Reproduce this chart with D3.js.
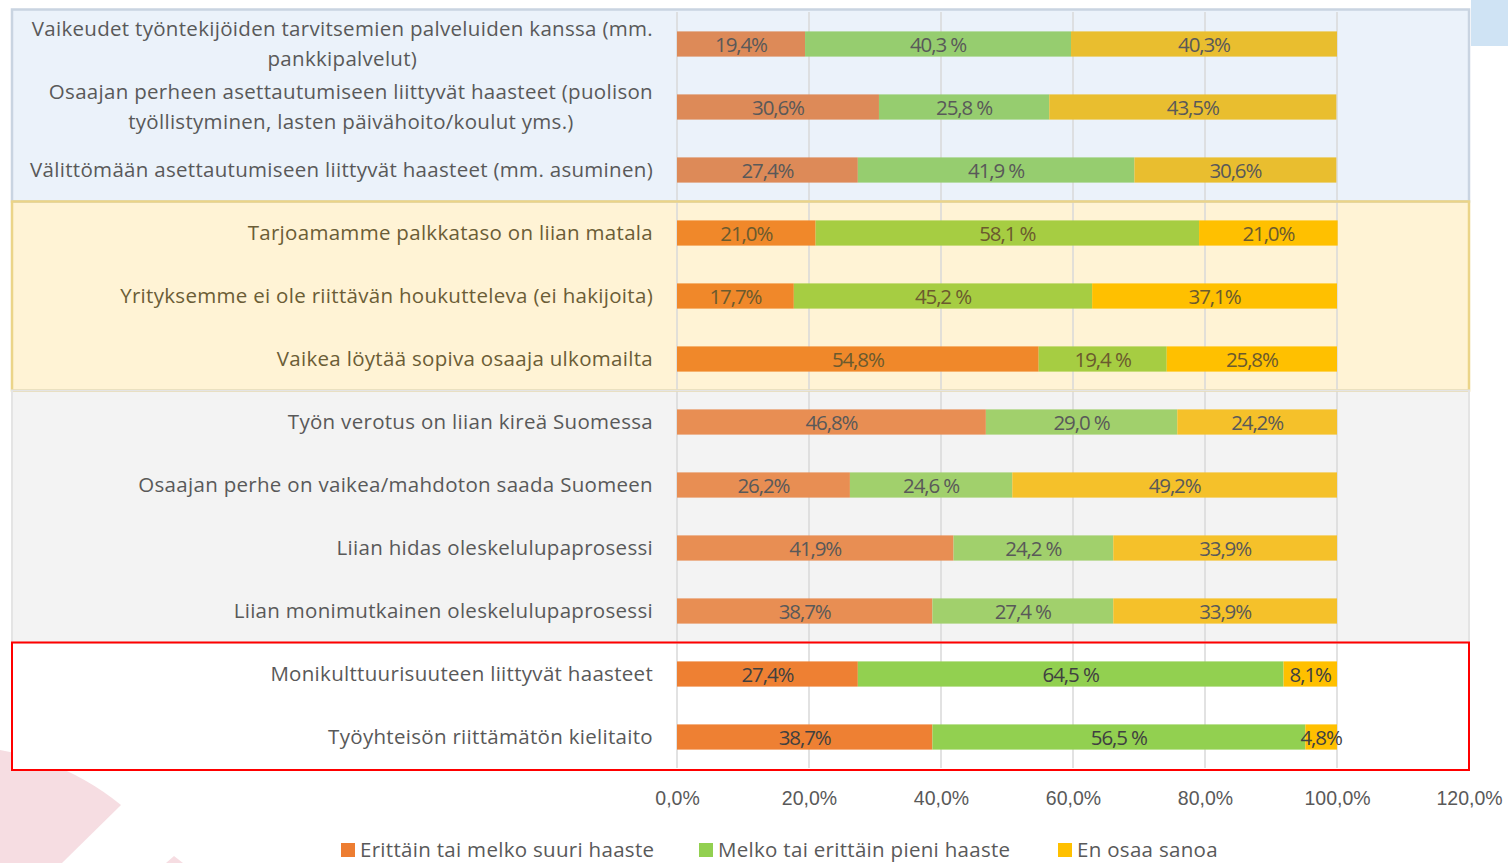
<!DOCTYPE html>
<html>
<head>
<meta charset="utf-8">
<script src="https://cdn.jsdelivr.net/npm/d3@7"></script>
<style>
  body { margin: 0; background: #fff; }
  svg { display: block; font-family: "Open Sans", sans-serif; }
</style>
</head>
<body>
<div id="chart"></div>
<script>
// categories, top to bottom
const categories = [
  "Vaikeudet työntekijöiden tarvitsemien palveluiden kanssa (mm.|pankkipalvelut)",
  "Osaajan perheen asettautumiseen liittyvät haasteet (puolison|työllistyminen, lasten päivähoito/koulut yms.)",
  "Välittömään asettautumiseen liittyvät haasteet (mm. asuminen)",
  "Tarjoamamme palkkataso on liian matala",
  "Yrityksemme ei ole riittävän houkutteleva (ei hakijoita)",
  "Vaikea löytää sopiva osaaja ulkomailta",
  "Työn verotus on liian kireä Suomessa",
  "Osaajan perhe on vaikea/mahdoton saada Suomeen",
  "Liian hidas oleskelulupaprosessi",
  "Liian monimutkainen oleskelulupaprosessi",
  "Monikulttuurisuuteen liittyvät haasteet",
  "Työyhteisön riittämätön kielitaito"
];
const seriesNames = ["Erittäin tai melko suuri haaste", "Melko tai erittäin pieni haaste", "En osaa sanoa"];
const suuri  = [19.4, 30.6, 27.4, 21.0, 17.7, 54.8, 46.8, 26.2, 41.9, 38.7, 27.4, 38.7];
const pieni  = [40.3, 25.8, 41.9, 58.1, 45.2, 19.4, 29.0, 24.6, 24.2, 27.4, 64.5, 56.5];
const eiTied = [40.3, 43.5, 30.6, 21.0, 37.1, 25.8, 24.2, 49.2, 33.9, 33.9, 8.1, 4.8];
const xTicks = [0, 20, 40, 60, 80, 100, 120];
// group of rows shown on a shaded panel
const groupOf = [0, 0, 0, 1, 1, 1, 2, 2, 2, 2, 3, 3];

const groups = [
  { fill: "#ebf2fa", stroke: "#c9d4e1", sw: 2.5, text: "#595959", label: "#595959", colors: ["#dd8a58", "#96cd6f", "#e9be2f"] },
  { fill: "#fff3d5", stroke: "#ebd488", sw: 2.5, text: "#6b5d36", label: "#6b5a2e", colors: ["#f0882a", "#a6cd42", "#ffc000"] },
  { fill: "#f3f3f3", stroke: "#e4e4e4", sw: 2, text: "#595959", label: "#595959", colors: ["#e88e53", "#a1d06c", "#f5c12a"] },
  { fill: "#ffffff", stroke: "#ff0000", sw: 2, text: "#595959", label: "#404040", colors: ["#ee8033", "#92d050", "#ffc000"] }
];
const legendColors = ["#ed7d31", "#92d050", "#ffc000"];

const FS = 20.5, LS = 0.3;
const W = 1508, H = 863;
const svg = d3.select("#chart").append("svg").attr("width", W).attr("height", H);

const x = d3.scaleLinear().domain([0, 120]).range([677, 1469]);
const y = d3.scaleBand().domain(d3.range(categories.length)).range([12.5, 768.5]).paddingInner(0.6).paddingOuter(0.3);
const step = y.step();

// background decoration
svg.append("path").attr("d", "M0,750 Q68,762 121,805 L62,863 L0,863 Z").attr("fill", "#f6dde2");
svg.append("path").attr("d", "M174,856 L166,863 L183,863 Z").attr("fill", "#f6dde2");
svg.append("rect").attr("x", 1471).attr("y", 0).attr("width", 37).attr("height", 46).attr("fill", "#cfe3f4");

// group panels
const panelG = svg.append("g");
groups.forEach((g, gi) => {
  const rows = d3.range(categories.length).filter(i => groupOf[i] === gi);
  let top = y(rows[0]) - (step - y.bandwidth()) / 2;
  let bot = y(rows[rows.length - 1]) + y.bandwidth() + (step - y.bandwidth()) / 2;
  if (gi === 0) top -= 3;
  if (gi === 3) bot += 1.5;
  panelG.append("rect")
    .attr("x", 12).attr("y", top)
    .attr("width", x(120) - 12).attr("height", bot - top)
    .attr("fill", g.fill);
  g.top = top; g.bot = bot;
});

// gridlines
svg.append("g").selectAll("line").data(xTicks.slice(0, 6)).join("line")
  .attr("x1", d => x(d)).attr("x2", d => x(d))
  .attr("y1", 12).attr("y2", 768)
  .attr("stroke", "#d9d9d9").attr("stroke-width", 1.5);

// panel borders over gridlines
groups.forEach(g => {
  svg.append("rect")
    .attr("x", 12).attr("y", g.top)
    .attr("width", x(120) - 12).attr("height", g.bot - g.top)
    .attr("fill", "none").attr("stroke", g.stroke).attr("stroke-width", g.sw);
});

// stacked bars
const rowsData = categories.map((c, i) => {
  const vals = [suuri[i], pieni[i], eiTied[i]];
  let acc = 0;
  return vals.map((v, k) => { const s = { i, k, v, x0: acc, x1: acc + v }; acc += v; return s; });
});
const fmt = (v, k) => v.toFixed(1).replace(".", ",") + (k === 1 ? " %" : "%");

const barG = svg.append("g");
rowsData.forEach(row => {
  const g = groups[groupOf[row[0].i]];
  barG.selectAll(null).data(row).join("rect")
    .attr("x", d => x(d.x0)).attr("width", d => x(d.x1) - x(d.x0))
    .attr("y", d => y(d.i)).attr("height", y.bandwidth())
    .attr("fill", d => g.colors[d.k]);
  barG.selectAll(null).data(row).join("text")
    .attr("x", d => (x(d.x0) + x(d.x1)) / 2)
    .attr("y", d => y(d.i) + y.bandwidth() / 2)
    .attr("dy", "0.37em")
    .attr("text-anchor", "middle")
    .attr("font-size", 20.5)
    .attr("letter-spacing", -1.1)
    .attr("fill", g.label)
    .text(d => fmt(d.v, d.k));
});

// category labels (wrapped lines centered, right aligned block)
const labG = svg.append("g");
categories.forEach((c, i) => {
  const lines = c.split("|");
  const g = groups[groupOf[i]];
  const cy = y(i) + y.bandwidth() / 2;
  const t = labG.append("text").attr("font-size", FS).attr("letter-spacing", LS).attr("fill", g.text);
  lines.forEach((ln, li) => {
    t.append("tspan").text(ln)
      .attr("y", cy + (li - (lines.length - 1) / 2) * 30)
      .attr("dy", "0.36em");
  });
  const widths = t.selectAll("tspan").nodes().map(n => n.getComputedTextLength());
  const maxW = d3.max(widths);
  t.attr("text-anchor", "middle").selectAll("tspan").attr("x", 653 - maxW / 2);
});

// x axis
const axis = svg.append("g").attr("transform", "translate(0,798)")
  .call(d3.axisBottom(x).tickValues(xTicks).tickSize(0).tickFormat(d => d.toFixed(1).replace(".", ",") + "%"));
axis.select(".domain").remove();
axis.selectAll("text").attr("font-size", 19.5).attr("fill", "#595959").attr("y", 0).attr("dy", "0.36em")
  .style("font-family", "inherit");

// legend
const legX = [341, 699, 1058];
const leg = svg.append("g").selectAll("g").data(seriesNames).join("g")
  .attr("transform", (d, i) => `translate(${legX[i]},843)`);
leg.append("rect").attr("width", 14).attr("height", 14).attr("fill", (d, i) => legendColors[i]);
leg.append("text").attr("x", 19).attr("y", 7).attr("dy", "0.36em")
  .attr("font-size", FS).attr("letter-spacing", LS).attr("fill", "#595959").text(d => d);
</script>
</body>
</html>
